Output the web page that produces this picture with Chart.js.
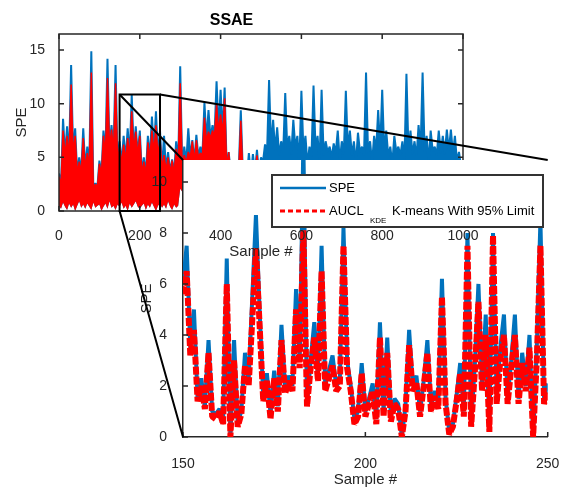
<!DOCTYPE html>
<html>
<head>
<meta charset="utf-8">
<script src="https://cdn.jsdelivr.net/npm/chart.js@4.4.1/dist/chart.umd.min.js"></script>
<style>
  html, body { margin: 0; padding: 0; background: #fff; }
  #wrap { position: relative; width: 570px; height: 495px; }
  #wrap canvas { position: absolute; left: 0; top: 0; width: 570px; height: 495px; }
</style>
</head>
<body>
<div id="wrap">
  <canvas id="main" width="570" height="495"></canvas>
  <canvas id="inset" width="570" height="495"></canvas>
  <canvas id="over" width="570" height="495"></canvas>
</div>
<script>
// main view: one point every 5 samples (peak, valley, peak, ...)
const mainStep = 5;
const mainSpe = [
  3.5, 2.4, 8.6, 5.2, 7.9, 5.0, 13.6, 5.4, 7.7, 3.5,
  5.0, 3.6, 7.7, 4.0, 6.0, 4.2, 14.9, 2.0, 2.6, 2.2,
  4.7, 3.4, 7.5, 5.3, 14.2, 5.8, 8.0, 5.6, 13.6, 4.6,
  6.5, 4.4, 7.0, 4.8, 7.7, 5.0, 10.8, 5.6, 7.9, 5.2,
  7.5, 3.5, 5.0, 3.4, 7.0, 4.9, 8.8, 5.5, 9.3, 5.1,
  7.5, 3.9, 7.0, 3.8, 5.5, 3.6, 4.8, 3.5, 6.5, 4.4,
  13.5, 4.0, 6.0, 4.5, 7.7, 5.0, 6.6, 4.6, 7.1, 5.0,
  6.0, 5.2, 10.1, 6.5, 9.4, 6.8, 8.0, 7.0, 12.1, 7.5,
  11.3, 7.2, 11.5, 4.0, 5.5, 3.5, 4.5, 3.2, 4.6, 3.8,
  9.4, 3.6, 4.5, 3.1, 5.4, 3.3, 5.3, 3.6, 5.7, 3.4,
  5.0, 4.6, 6.2, 5.4, 12.2, 5.8, 8.5, 5.6, 7.8, 5.2,
  6.5, 5.5, 11.0, 5.8, 7.0, 5.3, 8.5, 5.9, 7.0, 4.4,
  11.2, 5.6, 7.0, 4.3, 6.0, 5.1, 11.7, 5.8, 7.0, 4.5,
  11.3, 5.2, 6.5, 5.5, 6.0, 5.0, 6.3, 5.4, 7.5, 4.6,
  6.5, 5.3, 11.2, 5.7, 7.5, 5.2, 6.5, 4.4, 7.3, 5.5,
  6.0, 5.2, 12.9, 5.4, 6.5, 4.5, 7.0, 5.6, 9.4, 5.8,
  11.3, 5.5, 7.5, 5.1, 6.0, 4.4, 7.0, 5.5, 6.0, 5.2,
  6.5, 4.6, 12.8, 5.6, 7.5, 5.3, 6.5, 5.0, 8.0, 5.7,
  12.9, 5.5, 7.0, 4.5, 7.5, 5.6, 6.0, 5.2, 7.5, 5.4,
  7.0, 5.3, 7.6, 5.6, 7.6, 5.4, 7.0, 4.6, 5.5, 4.2
];
const mainAucl = [
  3.2, 2.4, 7.5, 5.2, 7.0, 5.0, 11.8, 5.4, 7.0, 3.5,
  4.6, 3.6, 6.8, 4.0, 5.4, 4.2, 12.9, 2.0, 2.5, 2.2,
  4.4, 3.4, 7.0, 5.3, 12.4, 5.8, 7.6, 5.6, 11.9, 4.6,
  6.0, 4.4, 6.2, 4.8, 6.8, 5.0, 9.3, 5.6, 7.4, 5.2,
  7.0, 3.5, 4.6, 3.4, 6.4, 4.9, 7.5, 5.5, 8.0, 5.1,
  6.8, 3.9, 5.2, 3.8, 5.0, 3.6, 4.7, 3.5, 5.8, 4.4,
  11.9, 4.0, 5.2, 4.5, 5.5, 5.0, 6.5, 4.6, 6.6, 5.0,
  5.4, 5.2, 8.7, 6.5, 7.4, 6.8, 7.5, 7.0, 10.0, 7.5,
  9.0, 7.2, 10.5, 4.0, 5.5, 3.5, 4.3, 3.2, 4.4, 3.8,
  8.4, 3.6, 4.2, 3.1, 4.3, 3.3, 4.2, 3.6, 5.2, 3.4,
  4.6, 3.4, 4.1, 2.9, 4.4, 3.8, 3.9, 3.1, 4.2, 2.7,
  4.0, 3.5, 4.3, 3.0, 3.8, 3.6, 4.4, 2.8, 4.1, 3.3,
  4.2, 3.6, 3.9, 2.9, 4.3, 3.2, 4.0, 3.8, 4.4, 2.6,
  4.1, 3.4, 3.8, 3.0, 4.2, 3.7, 4.0, 2.9, 4.3, 3.5,
  4.1, 3.1, 4.4, 2.8, 3.9, 3.6, 4.2, 3.3, 4.0, 2.7,
  4.3, 3.8, 4.1, 3.0, 3.8, 3.4, 4.4, 2.8, 4.2, 3.5,
  4.0, 3.2, 4.3, 2.9, 3.9, 3.7, 4.1, 3.1, 4.4, 2.6,
  4.2, 3.4, 3.8, 3.6, 4.3, 3.0, 4.0, 2.9, 4.1, 3.5,
  4.4, 3.3, 3.9, 2.7, 4.2, 3.6, 4.0, 3.1, 4.3, 2.8,
  4.1, 3.4, 3.8, 3.0, 4.2, 3.7, 4.0, 2.9, 4.3, 3.2
];
// lower edge of the dense band
const mainFloor = [
  0.5, 0.2, 0.8, 0.4, 0.1, 0.7, 0.3, 0.6, 0.0, 0.5,
  0.9, 0.3, 0.6, 0.2, 0.7, 0.4, 0.1, 0.8, 0.3, 0.5,
  0.6, 0.0, 0.4, 0.7, 0.2, 0.9, 0.3, 0.5, 0.1, 0.6,
  0.4, 0.8, 0.2, 0.5, 0.0, 0.7, 0.3, 0.6, 0.9, 0.4,
  0.2, 0.5, 0.7, 0.1, 0.6, 0.3, 0.8, 0.4, 0.0, 0.5,
  0.7, 0.3, 0.6, 0.2, 0.9, 0.4, 0.1, 0.6, 0.3, 0.5,
  2.1, 1.8, 2.3, 1.6, 2.0, 2.4, 1.7, 2.2, 1.9, 2.5,
  1.8, 2.2, 1.6, 2.0, 2.3, 1.9, 2.4, 1.7, 2.1, 1.8,
  2.2, 1.9, 2.5, 1.7, 2.0, 2.3, 1.8, 2.1, 1.6, 2.4,
  2.0, 1.7, 2.2, 2.5, 1.9, 1.8, 2.3, 2.0, 1.6, 2.1,
  1.9, 2.4, 1.8, 2.2, 2.0, 1.7, 2.3, 1.9, 2.5, 1.8,
  2.1, 1.6, 2.2, 1.9, 2.4, 2.0, 1.8, 2.3, 1.7, 2.1,
  2.4, 1.9, 2.0, 1.7, 2.2, 2.5, 1.8, 2.1, 1.9, 2.3,
  1.7, 2.2, 1.8, 2.4, 2.0, 1.6, 2.1, 1.9, 2.3, 2.0,
  2.2, 1.8, 2.5, 1.9, 1.7, 2.1, 2.3, 1.8, 2.0, 2.4,
  1.9, 2.1, 1.7, 2.2, 2.4, 1.8, 2.0, 2.3, 1.6, 2.1,
  2.3, 1.9, 2.2, 1.8, 2.0, 2.5, 1.7, 2.1, 1.9, 2.2,
  1.8, 2.4, 2.0, 1.7, 2.3, 1.9, 2.1, 1.8, 2.4, 2.0,
  2.1, 1.7, 2.3, 2.0, 1.8, 2.2, 1.9, 2.5, 1.7, 2.1,
  2.0, 2.2, 1.8, 2.4, 1.9, 2.1, 1.7, 2.3, 2.0, 1.8
];

// zoomed view: samples 150..250, one value per sample
const zoomX = [150, 250];
const zoomYMax = 10.86;
const zoomSpe = [
  6.0, 7.5, 3.5, 5.0, 1.5, 2.3, 1.2, 3.8, 1.0, 0.9,
  1.1, 0.7, 7.0, 0.0, 3.8, 0.6, 1.0, 3.3, 2.2, 5.5,
  8.7, 5.0, 1.6, 2.5, 0.9, 2.6, 1.2, 4.4, 1.9, 2.4,
  2.0, 5.8, 3.0, 11.5, 1.3, 3.0, 4.5, 2.4, 7.5, 2.0,
  2.6, 3.2, 2.0, 2.2, 8.2, 3.0, 2.0, 0.7, 1.0, 2.9,
  1.0, 1.5, 2.1, 0.7, 4.5, 1.0, 3.9, 0.8, 1.5, 1.3,
  0.0, 1.2, 4.2, 2.0, 2.4, 1.0, 2.2, 3.8, 1.2, 1.8,
  1.3, 6.2, 1.5, 0.2, 0.5, 1.6, 2.9, 1.0, 8.0, 0.5,
  2.8, 6.0, 2.0, 4.8, 0.3, 8.0, 1.5, 3.5, 4.8, 1.5,
  3.0, 4.8, 1.5, 3.3, 2.0, 4.0, 0.0, 3.5, 8.5, 1.5,
  2.1
];
const zoomAucl = [
  5.6, 6.5, 3.2, 4.2, 1.4, 2.0, 1.1, 3.3, 0.8, 0.7,
  1.0, 0.5, 6.0, 0.0, 3.0, 0.4, 0.9, 2.8, 2.0, 4.6,
  7.4, 4.4, 1.4, 2.2, 0.7, 2.3, 1.0, 3.8, 1.7, 2.2,
  1.8, 5.0, 2.7, 8.1, 1.2, 2.7, 3.9, 2.2, 6.5, 1.8,
  2.3, 2.8, 1.8, 2.0, 7.5, 2.7, 1.8, 0.5, 0.8, 2.5,
  0.8, 1.3, 1.8, 0.5, 3.9, 0.8, 3.3, 0.6, 1.3, 1.1,
  0.0, 1.0, 3.6, 1.8, 2.1, 0.8, 2.0, 3.3, 1.0, 1.6,
  1.1, 5.5, 1.3, 0.1, 0.4, 1.4, 2.5, 0.8, 7.5, 0.4,
  2.5, 5.3, 1.8, 4.0, 0.2, 7.9, 1.3, 3.0, 4.0, 1.3,
  2.7, 4.0, 1.3, 2.9, 1.8, 3.5, 0.0, 3.0, 7.5, 1.3,
  1.8
];

const legendNames = ['SPE', 'AUCL'];
const legendSub = 'KDE';
const legendTail = 'K-means With 95% Limit';

const FONT = "'Liberation Sans', Arial, sans-serif";
const AXIS = '#262626';
const BLUE = '#0072BD';
const RED = '#FF0000';
const HIDE = 'rgba(0,0,0,0)';

function toPoints(values, start, step) {
  return values.map((v, i) => ({ x: start + i * step, y: v }));
}

// inward tick marks, MATLAB style
function inwardTicks(ctx, chart, sides) {
  const a = chart.chartArea;
  const { x, y } = chart.scales;
  ctx.beginPath();
  x.ticks.forEach((t) => {
    const px = x.getPixelForValue(t.value);
    if (sides.top) { ctx.moveTo(px, a.top); ctx.lineTo(px, a.top + 5); }
    ctx.moveTo(px, a.bottom); ctx.lineTo(px, a.bottom - 5);
  });
  y.ticks.forEach((t) => {
    const py = y.getPixelForValue(t.value);
    ctx.moveTo(a.left, py); ctx.lineTo(a.left + 5, py);
    if (sides.right) { ctx.moveTo(a.right, py); ctx.lineTo(a.right - 5, py); }
  });
  ctx.stroke();
}

function mainOptions(overLayer) {
  return {
    responsive: false,
    animation: false,
    events: [],
    layout: { padding: { left: 0, top: 0, right: 107, bottom: 232 } },
    plugins: {
      legend: { display: false },
      tooltip: { enabled: false },
      title: {
        display: true, text: 'SSAE', color: overLayer ? HIDE : '#000',
        font: { family: FONT, size: 16, weight: 'bold' },
        padding: { top: 11, bottom: 3.8 }
      }
    },
    scales: {
      x: {
        type: 'linear', min: 0, max: 1000,
        grid: { display: false }, border: { display: false },
        ticks: {
          stepSize: 200, includeBounds: false, maxRotation: 0, autoSkip: false,
          padding: 8.6, color: overLayer ? AXIS : HIDE, font: { family: FONT, size: 14 },
          callback: (v) => String(v)
        },
        title: {
          display: true, text: 'Sample #', color: overLayer ? AXIS : HIDE,
          font: { family: FONT, size: 15 }, padding: { top: 0, bottom: 2 }
        },
        afterFit: (s) => { s.height = 52; }
      },
      y: {
        min: 0, max: 16.5,
        grid: { display: false }, border: { display: false },
        ticks: {
          stepSize: 5, includeBounds: false,
          padding: 6, color: overLayer ? HIDE : AXIS, font: { family: FONT, size: 14 }
        },
        title: {
          display: true, text: 'SPE', color: overLayer ? HIDE : AXIS,
          font: { family: FONT, size: 15 }, padding: { top: 13, bottom: 0 }
        },
        afterFit: (s) => { s.width = 59; }
      }
    }
  };
}

const mainFrame = {
  id: 'mainFrame',
  afterDatasetsDraw(chart) {
    const { ctx, chartArea: a } = chart;
    ctx.save();
    ctx.strokeStyle = AXIS;
    ctx.lineWidth = 1.5;
    ctx.strokeRect(a.left, a.top, a.right - a.left, a.bottom - a.top);
    inwardTicks(ctx, chart, { top: true, right: true });
    ctx.restore();
  }
};

const mainChart = new Chart(document.getElementById('main'), {
  type: 'line',
  data: {
    datasets: [
      {
        label: 'AUCL', data: toPoints(mainAucl, 0, mainStep), order: 0,
        borderColor: RED, backgroundColor: RED, fill: 2, borderWidth: 1.5,
        borderJoinStyle: 'bevel', pointRadius: 0
      },
      {
        label: 'SPE', data: toPoints(mainSpe, 0, mainStep), order: 1,
        borderColor: BLUE, backgroundColor: BLUE, fill: 2, borderWidth: 2,
        borderJoinStyle: 'bevel', pointRadius: 0
      },
      {
        label: 'floor', data: toPoints(mainFloor, 0, mainStep), order: 2,
        borderColor: HIDE, backgroundColor: HIDE, fill: false, borderWidth: 0, pointRadius: 0
      }
    ]
  },
  options: mainOptions(false),
  plugins: [mainFrame]
});

// white panel behind the zoomed axes + boxed legend
const insetBack = {
  id: 'insetBack',
  beforeDraw(chart) {
    const { ctx, chartArea: a } = chart;
    ctx.save();
    ctx.fillStyle = '#fff';
    ctx.fillRect(a.left, a.top, a.right - a.left, a.bottom - a.top);
    ctx.restore();
  },
  afterDraw(chart) {
    const { ctx } = chart;
    ctx.save();
    ctx.strokeStyle = AXIS;
    ctx.lineWidth = 1.5;
    inwardTicks(ctx, chart, {});

    const box = { left: 272, top: 175, right: 543, bottom: 227 };
    ctx.fillStyle = '#fff';
    ctx.fillRect(box.left, box.top, box.right - box.left, box.bottom - box.top);
    ctx.lineWidth = 2;
    ctx.strokeStyle = '#333';
    ctx.strokeRect(box.left, box.top, box.right - box.left, box.bottom - box.top);

    const rows = [188, 211];
    const byLabel = {};
    chart.data.datasets.forEach((d) => { byLabel[d.label] = d; });
    legendNames.forEach((name, i) => {
      const d = byLabel[name];
      ctx.beginPath();
      ctx.strokeStyle = d.borderColor;
      ctx.lineWidth = name === 'SPE' ? 2.5 : 3;
      ctx.setLineDash(name === 'SPE' ? [] : [5, 3]);
      ctx.moveTo(280, rows[i]);
      ctx.lineTo(326, rows[i]);
      ctx.stroke();
      ctx.setLineDash([]);
      ctx.fillStyle = '#000';
      ctx.font = '13px ' + FONT;
      ctx.textBaseline = 'middle';
      ctx.textAlign = 'left';
      ctx.fillText(name, 329, rows[i]);
    });
    ctx.font = '8px ' + FONT;
    ctx.fillText(legendSub, 370, 221);
    ctx.font = '13px ' + FONT;
    ctx.fillText(legendTail, 392, rows[1]);
    ctx.restore();
  }
};

const insetChart = new Chart(document.getElementById('inset'), {
  type: 'line',
  data: {
    datasets: [
      {
        label: 'AUCL', data: toPoints(zoomAucl, zoomX[0], 1), order: 0,
        borderColor: RED, borderWidth: 6, borderDash: [8, 2],
        borderJoinStyle: 'bevel', pointRadius: 0
      },
      {
        label: 'SPE', data: toPoints(zoomSpe, zoomX[0], 1), order: 1,
        borderColor: BLUE, borderWidth: 4, borderJoinStyle: 'bevel', pointRadius: 0
      }
    ]
  },
  options: {
    responsive: false,
    animation: false,
    events: [],
    layout: { padding: { left: 0, top: 160, right: 14, bottom: 0 } },
    plugins: { legend: { display: false }, tooltip: { enabled: false }, title: { display: false } },
    scales: {
      x: {
        type: 'linear', min: zoomX[0], max: zoomX[1],
        grid: { display: false }, border: { display: true, color: AXIS, width: 1.5 },
        ticks: {
          stepSize: 50, includeBounds: false, maxRotation: 0, autoSkip: false,
          padding: 10.6, color: AXIS, font: { family: FONT, size: 14 }
        },
        title: {
          display: true, text: 'Sample #', color: AXIS,
          font: { family: FONT, size: 15 }, padding: { top: 0, bottom: 6 }
        },
        afterFit: (s) => { s.height = 58; }
      },
      y: {
        min: 0, max: zoomYMax,
        grid: { display: false }, border: { display: true, color: AXIS, width: 1.5 },
        ticks: {
          stepSize: 2, includeBounds: false,
          padding: 8, color: AXIS, font: { family: FONT, size: 14 }
        },
        title: {
          display: true, text: 'SPE', color: AXIS,
          font: { family: FONT, size: 15 }, padding: { top: 138, bottom: 0 }
        },
        afterFit: (s) => { s.width = 183; }
      }
    }
  },
  plugins: [insetBack]
});

// zoom rectangle and connector lines, drawn over everything
const zoomLinks = {
  id: 'zoomLinks',
  afterDraw(chart) {
    const { ctx, scales: { x, y } } = chart;
    const ia = insetChart.chartArea;
    const l = x.getPixelForValue(zoomX[0]);
    const r = x.getPixelForValue(zoomX[1]);
    const b = y.getPixelForValue(0);
    const t = y.getPixelForValue(zoomYMax);
    ctx.save();
    ctx.strokeStyle = '#000';
    ctx.lineWidth = 2;
    ctx.strokeRect(l, t, r - l, b - t);
    ctx.beginPath();
    ctx.moveTo(l, t); ctx.lineTo(ia.left, ia.top);
    ctx.moveTo(r, t); ctx.lineTo(ia.right, ia.top);
    ctx.moveTo(l, b); ctx.lineTo(ia.left, ia.bottom);
    ctx.stroke();
    ctx.restore();
  }
};

new Chart(document.getElementById('over'), {
  type: 'line',
  data: { datasets: [] },
  options: mainOptions(true),
  plugins: [zoomLinks]
});
</script>
</body>
</html>
